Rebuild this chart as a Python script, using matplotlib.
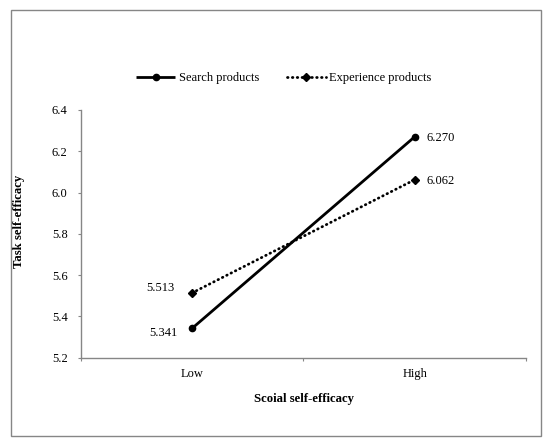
import matplotlib
matplotlib.use("Agg")
import matplotlib.pyplot as plt
from matplotlib.patches import Rectangle

categories = ["Low", "High"]
search_vals = [5.341, 6.270]
experience_vals = [5.513, 6.062]
search_labels = ["5.341", "6.270"]
experience_labels = ["5.513", "6.062"]
yticks = [5.2, 5.4, 5.6, 5.8, 6.0, 6.2, 6.4]

plt.rcParams['font.family'] = ['Liberation Serif', 'DejaVu Serif']
FS = 9.0
FSB = 9.2
GRAY = '#868686'

fig = plt.figure(figsize=(5.5, 4.45), dpi=100)
fig.patch.set_facecolor('white')
ax = fig.add_axes([80.7/550, 1-357.5/445, (526-80.7)/550, (357.5-110)/445])

xpos = [0.5, 1.5]
l1, = ax.plot(xpos, search_vals, color='black', lw=2.0, marker='o', ms=4.5,
              solid_capstyle='butt', label='Search products')
l2, = ax.plot(xpos, experience_vals, color='black', lw=2.0, marker='D', ms=4.2,
              linestyle=(0, (0.2, 1.55)), dash_capstyle='round', label='Experience products')

ax.set_xlim(0, 2)
ax.set_ylim(5.2, 6.4)
ax.set_yticks(yticks)
ax.set_yticklabels([f"{v:.1f}" for v in yticks], fontsize=FS)
ax.set_xticks([0, 1, 2])
ax.set_xticklabels([])
ax.set_xticks(xpos, minor=True)
ax.set_xticklabels(categories, minor=True, fontsize=FS)
ax.tick_params(axis='x', which='minor', length=0, pad=7.5)
ax.tick_params(axis='x', which='major', length=2.5, color=GRAY, width=0.8)
ax.tick_params(axis='y', length=2.5, color=GRAY, width=0.8, pad=7)

for s in ['top', 'right']:
    ax.spines[s].set_visible(False)
for s in ['left', 'bottom']:
    ax.spines[s].set_color(GRAY)
    ax.spines[s].set_linewidth(1.0)

# data labels
offs_s = [(-10.5, -3.0), (8.4, -1.2)]
offs_e = [(-12.7, 3.2), (8.4, -0.7)]
for i, (x, v, t) in enumerate(zip(xpos, search_vals, search_labels)):
    ax.annotate(t, (x, v), xytext=offs_s[i], textcoords='offset points',
                ha='right' if i == 0 else 'left', va='center', fontsize=FS)
for i, (x, v, t) in enumerate(zip(xpos, experience_vals, experience_labels)):
    ax.annotate(t, (x, v), xytext=offs_e[i], textcoords='offset points',
                ha='right' if i == 0 else 'left', va='center', fontsize=FS)

ax.set_ylabel('Task self-efficacy', fontsize=FSB, fontweight='bold')
ax.yaxis.set_label_coords((25-80.7)/445.3, (357.5-221.5)/247.5)
ax.set_xlabel('Scoial self-efficacy', fontsize=FSB, fontweight='bold')
ax.xaxis.set_label_coords((303.5-80.7)/445.3, (357.5-392.7)/247.5)

fig.legend(handles=[l1, l2], loc='center', bbox_to_anchor=(284/550, 1-78/445),
           ncol=2, frameon=False, fontsize=FS, handlelength=3.1,
           handletextpad=0.3, columnspacing=2.2, numpoints=1)

fig.patches.append(Rectangle((10.5/550, 9.5/445), 530.5/550, 426/445,
                             transform=fig.transFigure, fill=False,
                             edgecolor=GRAY, linewidth=1.0))

fig.savefig('out.png', dpi=100, facecolor='white')
